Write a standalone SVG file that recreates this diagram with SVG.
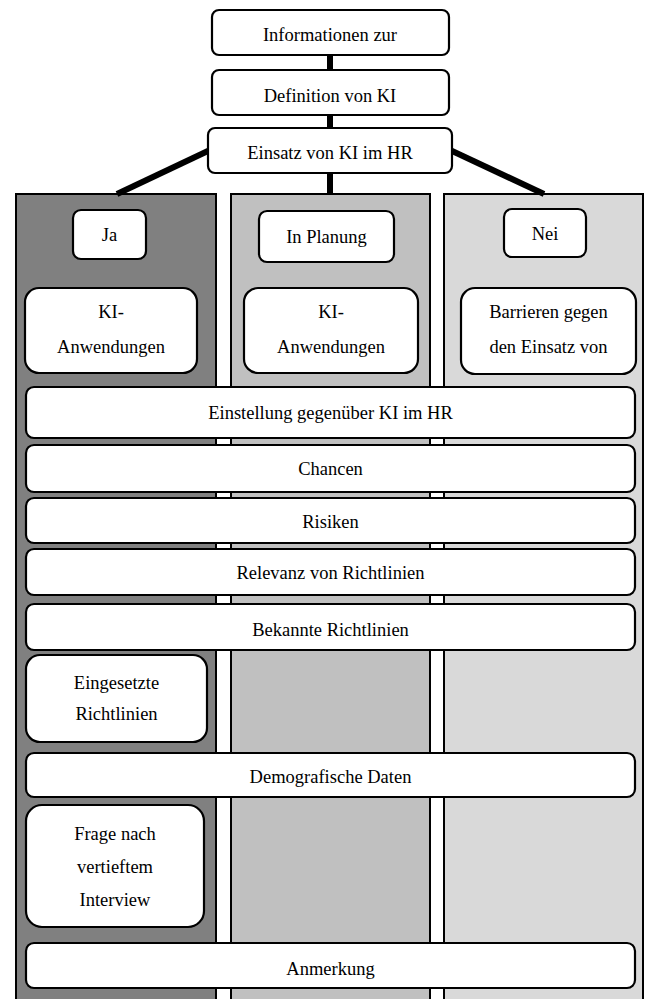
<svg xmlns="http://www.w3.org/2000/svg" width="648" height="999" viewBox="0 0 648 999">
<style>
.col{stroke:#000;stroke-width:2}
.box{fill:#fff;stroke:#000;stroke-width:2.2}
.c{stroke:#000;stroke-width:6;fill:none}
text{font-family:'Liberation Serif','Times New Roman',Times,serif;font-size:18.5px;text-anchor:middle;fill:#000}
</style>
<rect width="648" height="999" fill="#fff"/>
<g id="columns">
<rect class="col" x="16" y="194" width="200" height="815" fill="#808080"/>
<rect class="col" x="231" y="194" width="199" height="815" fill="#c0c0c0"/>
<rect class="col" x="444" y="194" width="199" height="815" fill="#d9d9d9"/>
</g>
<g id="connectors">
<line class="c" x1="330" y1="55" x2="330" y2="70"/>
<line class="c" x1="330" y1="115" x2="330" y2="128"/>
<line class="c" x1="330" y1="173" x2="330" y2="195"/>
<line class="c" x1="210" y1="150" x2="117" y2="194"/>
<line class="c" x1="450" y1="150" x2="544" y2="194"/>
</g>
<g id="n1"><rect class="box" x="212" y="10" width="237" height="45" rx="7"/><text style="font-family:'Liberation Serif',serif" x="330" y="41">Informationen zur</text></g>
<g id="n2"><rect class="box" x="212" y="70" width="237" height="45" rx="7"/><text style="font-family:'Liberation Serif',serif" x="330" y="102">Definition von KI</text></g>
<g id="n3"><rect class="box" x="208" y="128" width="244" height="45" rx="7"/><text style="font-family:'Liberation Serif',serif" x="330" y="159">Einsatz von KI im HR</text></g>
<g id="ja"><rect class="box" x="73" y="210" width="73" height="49" rx="8"/><text style="font-family:'Liberation Serif',serif" x="109.500" y="241">Ja</text></g>
<g id="planung"><rect class="box" x="259" y="211" width="135" height="51" rx="8"/><text style="font-family:'Liberation Serif',serif" x="326.500" y="243">In Planung</text></g>
<g id="nei"><rect class="box" x="504" y="209" width="82" height="48" rx="8"/><text style="font-family:'Liberation Serif',serif" x="545" y="240">Nei</text></g>
<g id="ki1"><rect class="box" x="25" y="288" width="172" height="85" rx="14"/><text style="font-family:'Liberation Serif',serif" x="111" y="318">KI-</text><text style="font-family:'Liberation Serif',serif" x="111" y="353">Anwendungen</text></g>
<g id="ki2"><rect class="box" x="244" y="288" width="174" height="85" rx="14"/><text style="font-family:'Liberation Serif',serif" x="331" y="318">KI-</text><text style="font-family:'Liberation Serif',serif" x="331" y="353">Anwendungen</text></g>
<g id="barrieren"><rect class="box" x="461" y="288" width="175" height="86" rx="14"/><text style="font-family:'Liberation Serif',serif" x="548.500" y="318">Barrieren gegen</text><text style="font-family:'Liberation Serif',serif" x="548.500" y="353">den Einsatz von</text></g>
<g id="einstellung"><rect class="box" x="26" y="387" width="609" height="51" rx="8"/><text style="font-family:'Liberation Serif',serif" x="330.500" y="419">Einstellung gegenüber KI im HR</text></g>
<g id="chancen"><rect class="box" x="26" y="445" width="609" height="47" rx="8"/><text style="font-family:'Liberation Serif',serif" x="330.500" y="475">Chancen</text></g>
<g id="risiken"><rect class="box" x="26" y="498" width="609" height="45" rx="8"/><text style="font-family:'Liberation Serif',serif" x="330.500" y="528">Risiken</text></g>
<g id="relevanz"><rect class="box" x="26" y="549" width="609" height="46" rx="8"/><text style="font-family:'Liberation Serif',serif" x="330.500" y="579">Relevanz von Richtlinien</text></g>
<g id="bekannte"><rect class="box" x="26" y="604" width="609" height="46" rx="8"/><text style="font-family:'Liberation Serif',serif" x="330.500" y="636">Bekannte Richtlinien</text></g>
<g id="eingesetzte"><rect class="box" x="26" y="655" width="181" height="87" rx="14"/><text style="font-family:'Liberation Serif',serif" x="116.500" y="689">Eingesetzte</text><text style="font-family:'Liberation Serif',serif" x="116.500" y="720">Richtlinien</text></g>
<g id="demografische"><rect class="box" x="26" y="753" width="609" height="44" rx="8"/><text style="font-family:'Liberation Serif',serif" x="330.500" y="783">Demografische Daten</text></g>
<g id="frage"><rect class="box" x="26" y="805" width="178" height="122" rx="16"/><text style="font-family:'Liberation Serif',serif" x="115" y="840">Frage nach</text><text style="font-family:'Liberation Serif',serif" x="115" y="873">vertieftem</text><text style="font-family:'Liberation Serif',serif" x="115" y="906">Interview</text></g>
<g id="anmerkung"><rect class="box" x="26" y="943" width="609" height="45" rx="8"/><text style="font-family:'Liberation Serif',serif" x="330.500" y="975">Anmerkung</text></g>
</svg>
